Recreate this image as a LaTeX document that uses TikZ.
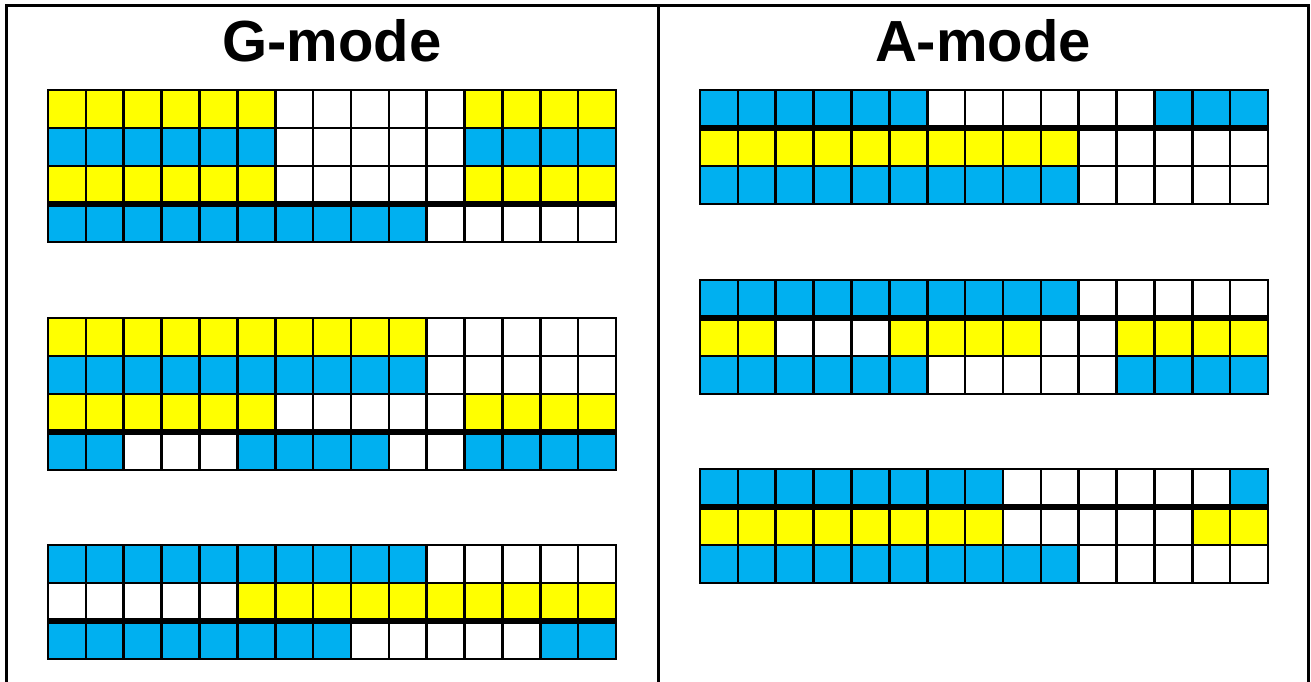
\documentclass[tikz,border=0pt]{standalone}
\usepackage{fontspec}
\setmainfont{Liberation Sans}
\definecolor{cY}{HTML}{FFFF00}
\definecolor{cB}{HTML}{00B0F0}
\definecolor{cW}{HTML}{FFFFFF}
\tikzset{
  cellbox/.style={draw=black, line width=2.6pt},
  sepline/.style={draw=black, line width=5.5pt},
  frameline/.style={draw=black, line width=3pt},
  title/.style={font=\bfseries\fontsize{58}{60}\selectfont, anchor=base, inner sep=0pt}
}
\newcommand\gridrow[3]{%
  \foreach \c [count=\i from 0] in {#3} {
    \path[cellbox, fill=c\c] ({#1+\i*37.87},{#2}) rectangle ++(37.87,38);
  }%
}
\newcommand\sepat[2]{\path[sepline] (#1,#2) -- ++(568,0);}
\begin{document}
\begin{tikzpicture}[x=1pt,y=-1pt]
\useasboundingbox (0,0) rectangle (1311,682);
\path[frameline] (6,682) -- (6,6) -- (1308,6) -- (1308,682);
\path[frameline] (658,6) -- (658,682);
\node[title] (gtitle) at (332,62) {G-mode};
\node[title] (atitle) at (983,62) {A-mode};
% G-mode grid 1
\gridrow{48}{90}{Y,Y,Y,Y,Y,Y,W,W,W,W,W,Y,Y,Y,Y}
\gridrow{48}{128}{B,B,B,B,B,B,W,W,W,W,W,B,B,B,B}
\gridrow{48}{166}{Y,Y,Y,Y,Y,Y,W,W,W,W,W,Y,Y,Y,Y}
\gridrow{48}{204}{B,B,B,B,B,B,B,B,B,B,W,W,W,W,W}
\sepat{48}{204}
% G-mode grid 2
\gridrow{48}{318}{Y,Y,Y,Y,Y,Y,Y,Y,Y,Y,W,W,W,W,W}
\gridrow{48}{356}{B,B,B,B,B,B,B,B,B,B,W,W,W,W,W}
\gridrow{48}{394}{Y,Y,Y,Y,Y,Y,W,W,W,W,W,Y,Y,Y,Y}
\gridrow{48}{432}{B,B,W,W,W,B,B,B,B,W,W,B,B,B,B}
\sepat{48}{432}
% G-mode grid 3
\gridrow{48}{545}{B,B,B,B,B,B,B,B,B,B,W,W,W,W,W}
\gridrow{48}{583}{W,W,W,W,W,Y,Y,Y,Y,Y,Y,Y,Y,Y,Y}
\gridrow{48}{621}{B,B,B,B,B,B,B,B,W,W,W,W,W,B,B}
\sepat{48}{621}
% A-mode grid 1
\gridrow{700}{90}{B,B,B,B,B,B,W,W,W,W,W,W,B,B,B}
\gridrow{700}{128}{Y,Y,Y,Y,Y,Y,Y,Y,Y,Y,W,W,W,W,W}
\gridrow{700}{166}{B,B,B,B,B,B,B,B,B,B,W,W,W,W,W}
\sepat{700}{128}
% A-mode grid 2
\gridrow{700}{280}{B,B,B,B,B,B,B,B,B,B,W,W,W,W,W}
\gridrow{700}{318}{Y,Y,W,W,W,Y,Y,Y,Y,W,W,Y,Y,Y,Y}
\gridrow{700}{356}{B,B,B,B,B,B,W,W,W,W,W,B,B,B,B}
\sepat{700}{318}
% A-mode grid 3
\gridrow{700}{469}{B,B,B,B,B,B,B,B,W,W,W,W,W,W,B}
\gridrow{700}{507}{Y,Y,Y,Y,Y,Y,Y,Y,W,W,W,W,W,Y,Y}
\gridrow{700}{545}{B,B,B,B,B,B,B,B,B,B,W,W,W,W,W}
\sepat{700}{507}
\end{tikzpicture}
\end{document}
